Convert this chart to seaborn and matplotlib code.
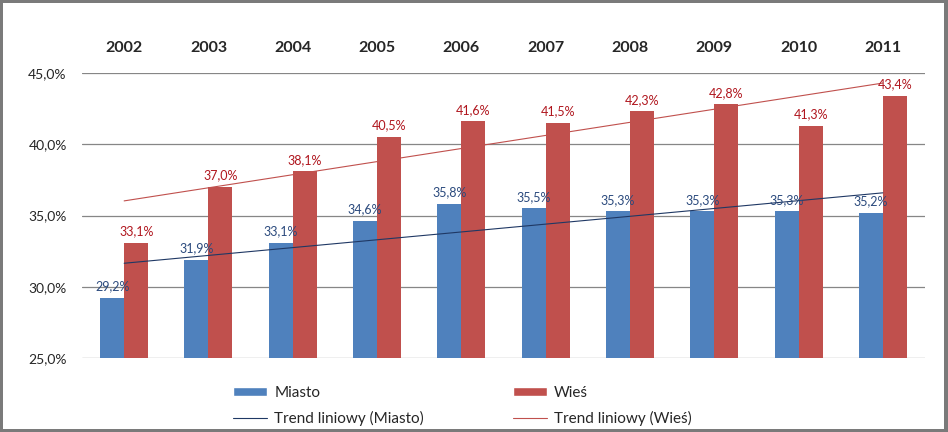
"""
Udział (%) w latach 2002-2011: Miasto vs Wieś, z liniami trendu.
"""

import matplotlib.pyplot as plt
from matplotlib.patches import Patch, Rectangle
from matplotlib.lines import Line2D
import numpy as np
import pandas as pd
import seaborn as sns

years = ['2002', '2003', '2004', '2005', '2006',
         '2007', '2008', '2009', '2010', '2011']
miasto = [29.2, 31.9, 33.1, 34.6, 35.8, 35.5, 35.3, 35.3, 35.3, 35.2]
wies = [33.1, 37.0, 38.1, 40.5, 41.6, 41.5, 42.3, 42.8, 41.3, 43.4]
series_names = ['Miasto', 'Wieś']
y_ticks = [25, 30, 35, 40, 45]

bar_colors = ['#4F81BD', '#C0504D']
label_colors = ['#2B4A7D', '#B0161E']
trend_colors = ['#1F3864', '#C0504D']

# long table for seaborn
df = pd.DataFrame({
    'rok': years * 2,
    'seria': [series_names[0]] * len(years) + [series_names[1]] * len(years),
    'wartosc': miasto + wies,
})

sns.set_style('white')
plt.rcParams['font.family'] = ['Lato', 'DejaVu Sans']

W, H = 948, 432
fig = plt.figure(figsize=(W / 100, H / 100), dpi=100)
fig.patch.set_facecolor('#7a7a7a')
# white chart area inside the gray frame (drawn below the axes)
fig.patches.append(Rectangle((3 / W, 3 / H), 941 / W, 426 / H,
                             transform=fig.transFigure, facecolor='white',
                             edgecolor='none', zorder=-5))

ax = fig.add_axes([82 / W, 1 - 358 / H, 843 / W, 285 / H])
ax.set_facecolor('none')

sns.barplot(data=df, x='rok', y='wartosc', hue='seria',
            palette=bar_colors, width=0.57, gap=0, saturation=1,
            linewidth=0, legend=False, ax=ax, zorder=3)

# value labels above the bars
for container, values, color in zip(ax.containers, [miasto, wies], label_colors):
    ax.bar_label(container, labels=[f'{v:.1f}%'.replace('.', ',') for v in values],
                 padding=4, fontsize=9, color=color, zorder=5)

# linear trend lines
x_pos = np.arange(len(years))
for values, color in zip([miasto, wies], trend_colors):
    sns.regplot(x=x_pos, y=np.array(values), scatter=False, ci=None,
                truncate=True, ax=ax,
                line_kws={'color': color, 'lw': 0.8, 'zorder': 4})

ax.set_xlim(-0.5, len(years) - 0.5)
ax.set_ylim(25, 45)
ax.set_yticks(y_ticks)
ax.set_yticklabels([f'{t:.1f}%'.replace('.', ',') for t in y_ticks], fontsize=10)
ax.set_xticks(x_pos)
ax.set_xticklabels(years, fontsize=11.5, fontweight='bold')
ax.xaxis.tick_top()
ax.tick_params(axis='x', length=0, pad=13)
ax.tick_params(axis='y', length=0, pad=11)
ax.set_xlabel('')
ax.set_ylabel('')
for spine in ax.spines.values():
    spine.set_visible(False)
ax.yaxis.grid(True, color='#868686', lw=0.9, zorder=0)
ax.set_axisbelow(True)

handles = [
    Patch(facecolor=bar_colors[0], label='Miasto'),
    Line2D([], [], color=trend_colors[0], lw=0.8, label='Trend liniowy (Miasto)'),
    Patch(facecolor=bar_colors[1], label='Wieś'),
    Line2D([], [], color=trend_colors[1], lw=0.8, label='Trend liniowy (Wieś)'),
]
fig.legend(handles=handles, ncol=2, frameon=False, fontsize=11,
           loc='upper left', bbox_to_anchor=(233 / W, 1 - 386 / H),
           borderpad=0, borderaxespad=0, handlelength=2.25, handleheight=0.55,
           handletextpad=0.45, columnspacing=5.8, labelspacing=0.7)

fig.savefig('out.png', dpi=100, facecolor=fig.get_facecolor())
